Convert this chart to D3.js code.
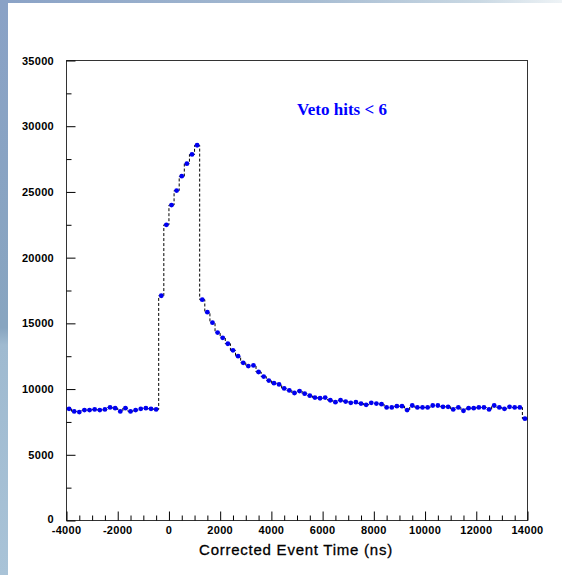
<!DOCTYPE html>
<html>
<head>
<meta charset="utf-8">
<script src="https://cdn.jsdelivr.net/npm/d3@7"></script>
<style>
  html, body { margin: 0; padding: 0; background: #fff; }
  svg { display: block; }
</style>
</head>
<body>
<svg id="chart" width="562" height="575"></svg>
<script>
// Histogram binning of the event time axis (ns)
const binStart = -4000;
const binWidth = 200;

// Counts per 200 ns bin, from -4000 ns to 14000 ns
const preWindowCounts = [8500, 8300, 8250, 8400, 8400, 8450, 8400, 8450, 8600,
                         8550, 8300, 8550, 8300, 8400, 8500, 8550, 8500, 8450];
const riseCounts = [17100, 22500, 24000, 25100, 26200, 27150, 27850, 28550];
const decayCounts = [16800, 15850, 15050, 14300, 13900, 13450, 12950, 12500, 12000,
                     11750, 11800, 11300, 10950, 10650, 10450, 10350, 10050, 9900,
                     9700, 9850, 9650, 9500, 9350];
const tailCounts = [9300, 9350, 9150, 9000, 9150, 9050, 8950, 9000, 8900, 8800,
                    8950, 8900, 8850, 8600, 8600, 8700, 8700, 8400, 8750, 8600,
                    8600, 8600, 8750, 8750, 8650, 8650, 8450, 8600, 8350, 8550,
                    8550, 8600, 8600, 8450, 8750, 8600, 8500, 8650, 8600, 8600,
                    7750];

const xTickLabels = [-4000, -2000, 0, 2000, 4000, 6000, 8000, 10000, 12000, 14000];
const yTickLabels = [0, 5000, 10000, 15000, 20000, 25000, 30000, 35000];

const counts = [].concat(preWindowCounts, riseCounts, decayCounts, tailCounts);
const bins = counts.map((c, i) => ({
  lo: binStart + i * binWidth,
  hi: binStart + (i + 1) * binWidth,
  mid: binStart + (i + 0.5) * binWidth,
  value: c
}));

const svg = d3.select("#chart");
const W = 562, H = 575;

// Window-frame backdrop: bluish strips along the left and top edges
const defs = svg.append("defs");
const gLeft = defs.append("linearGradient").attr("id", "leftStrip")
  .attr("x1", 0).attr("y1", 0).attr("x2", 0).attr("y2", 1);
gLeft.append("stop").attr("offset", "0%").attr("stop-color", "#8aa2c6");
gLeft.append("stop").attr("offset", "57%").attr("stop-color", "#88a5c0");
gLeft.append("stop").attr("offset", "60%").attr("stop-color", "#9fbad0");
gLeft.append("stop").attr("offset", "100%").attr("stop-color", "#a9c3d7");
const gTop = defs.append("linearGradient").attr("id", "topStrip")
  .attr("x1", 0).attr("y1", 0).attr("x2", 1).attr("y2", 0);
gTop.append("stop").attr("offset", "0%").attr("stop-color", "#8aa2c6");
gTop.append("stop").attr("offset", "55%").attr("stop-color", "#a7bcd2");
gTop.append("stop").attr("offset", "85%").attr("stop-color", "#c9d8e3");
gTop.append("stop").attr("offset", "100%").attr("stop-color", "#eef3f6");

svg.append("rect").attr("x", 0).attr("y", 0).attr("width", W).attr("height", H).attr("fill", "#fff");
svg.append("rect").attr("x", 0).attr("y", 0).attr("width", W).attr("height", 3).attr("fill", "url(#topStrip)");
svg.append("rect").attr("x", 0).attr("y", 0).attr("width", 8).attr("height", H).attr("fill", "url(#leftStrip)");

// Scales
const x = d3.scaleLinear().domain([-4000, 14000]).range([66.5, 527.5]);
const y = d3.scaleLinear().domain([0, 35000]).range([520.5, 60.5]);

const plot = svg.append("g");

// Frame
plot.append("rect")
  .attr("x", x(-4000)).attr("y", y(35000))
  .attr("width", x(14000) - x(-4000)).attr("height", y(0) - y(35000))
  .attr("fill", "none").attr("stroke", "#333").attr("stroke-width", 1);

// Y axis ticks (inward): major every 5000, minor every 2500
const yAxis = d3.axisRight(y)
  .tickValues(d3.range(0, 35001, 2500))
  .tickSize(0)
  .tickFormat("");
const yAx = plot.append("g").attr("transform", `translate(${x(-4000)},0)`).call(yAxis);
yAx.select(".domain").remove();
yAx.selectAll(".tick").append("line")
  .attr("x1", 0)
  .attr("x2", d => (d % 5000 === 0 ? 9 : 5))
  .attr("stroke", "#000");

// X axis ticks (inward): major every 2000, minor every 500
const xAxis = d3.axisTop(x)
  .tickValues(d3.range(-4000, 14001, 500))
  .tickSize(0)
  .tickFormat("");
const xAx = plot.append("g").attr("transform", `translate(0,${y(0)})`).call(xAxis);
xAx.select(".domain").remove();
xAx.selectAll(".tick").append("line")
  .attr("y1", 0)
  .attr("y2", d => (d % 2000 === 0 ? -9 : -5))
  .attr("stroke", "#000");

const labelFont = "'Liberation Sans', Arial, sans-serif";

// Y tick labels
plot.append("g").selectAll("text")
  .data(yTickLabels)
  .join("text")
  .attr("x", 54)
  .attr("y", d => y(d) + (d === 0 ? 2.5 : 4))
  .attr("text-anchor", "end")
  .attr("font-family", labelFont)
  .attr("font-weight", "bold")
  .attr("font-size", 11)
  .attr("letter-spacing", 0.3)
  .attr("fill", "#000")
  .text(d => d);

// X tick labels
plot.append("g").selectAll("text")
  .data(xTickLabels)
  .join("text")
  .attr("x", d => x(d))
  .attr("y", 534)
  .attr("text-anchor", "middle")
  .attr("font-family", labelFont)
  .attr("font-weight", "bold")
  .attr("font-size", 11)
  .attr("letter-spacing", 0.3)
  .attr("fill", "#000")
  .text(d => d);

// X axis title
svg.append("text")
  .attr("x", 296)
  .attr("y", 555)
  .attr("text-anchor", "middle")
  .attr("font-family", labelFont)
  .attr("font-size", 15)
  .attr("letter-spacing", 0.75)
  .attr("fill", "#000")
  .attr("stroke", "#000")
  .attr("stroke-width", 0.3)
  .text("Corrected Event Time (ns)");

// Histogram outline drawn as a dashed step line
const stepPts = [];
bins.forEach(b => {
  stepPts.push([b.lo, b.value]);
  stepPts.push([b.hi, b.value]);
});
const line = d3.line().x(d => x(d[0])).y(d => y(d[1]));
plot.append("path")
  .attr("d", line(stepPts))
  .attr("fill", "none")
  .attr("stroke", "#000")
  .attr("stroke-width", 1)
  .attr("stroke-dasharray", "3,2");

// Bin markers
plot.append("g").selectAll("circle")
  .data(bins)
  .join("circle")
  .attr("cx", d => x(d.mid))
  .attr("cy", d => y(d.value))
  .attr("r", 2.4)
  .attr("fill", "#0000f0");

// Selection label
svg.append("text")
  .attr("x", 342)
  .attr("y", 115)
  .attr("text-anchor", "middle")
  .attr("font-family", "'Liberation Serif', 'Times New Roman', serif")
  .attr("font-weight", "bold")
  .attr("font-size", 17)
  .attr("fill", "#0000ff")
  .text("Veto hits < 6");
</script>
</body>
</html>
